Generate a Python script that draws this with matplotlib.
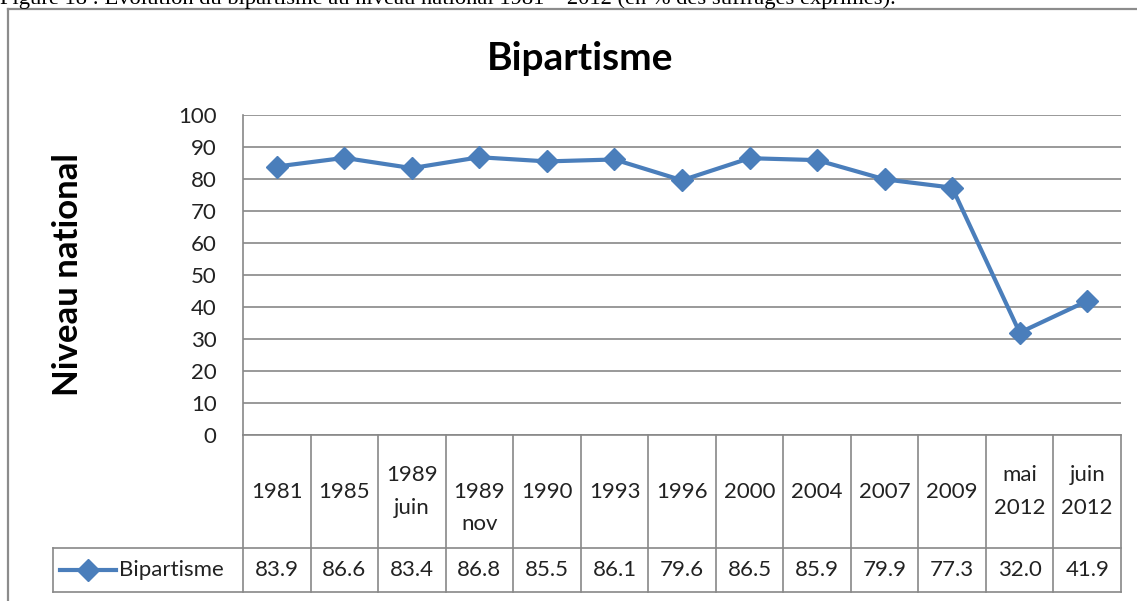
import matplotlib
matplotlib.use("Agg")
import matplotlib.pyplot as plt
from matplotlib.lines import Line2D
import matplotlib.transforms as mtransforms

# ---------------- data ----------------
categories = ["1981", "1985", "1989\njuin", "\n1989\nnov", "1990", "1993", "1996",
              "2000", "2004", "2007", "2009", "mai\n2012", "juin\n2012"]
bipartisme = [83.9, 86.6, 83.4, 86.8, 85.5, 86.1, 79.6, 86.5, 85.9, 79.9, 77.3, 32.0, 41.9]
series_name = "Bipartisme"
title = "Bipartisme"
ylabel = "Niveau national"
caption = ("Figure 18 : Évolution du bipartisme au niveau national 1981 – 2012 "
           "(en % des suffrages exprimés).")
yticks = list(range(0, 101, 10))

# ---------------- layout ----------------
W, H = 1137, 601
def fx(p):
    return p / W
def fy(p):
    return 1 - p / H

BLUE = "#4A7EBB"
GRID = "#888888"
FONT = "Lato"
TXT = 16
MS = 11

fig = plt.figure(figsize=(W / 100, H / 100), dpi=100)
fig.patch.set_facecolor("white")

# caption (cut off at top, as in the source)
fig.text(fx(0), fy(4), caption, family="Liberation Serif", fontsize=16.2,
         va="baseline", ha="left", color="black")

# outer chart frame
fig.add_artist(Line2D([fx(8), fx(8)], [fy(9), fy(620)], color="#8c8c8c", lw=1.6,
                      transform=fig.transFigure, clip_on=False))
fig.add_artist(Line2D([fx(8), fx(1150)], [fy(9), fy(9)], color="#8c8c8c", lw=1.6,
                      transform=fig.transFigure, clip_on=False))

L, R, T, B = 243, 1121, 115, 435
ax = fig.add_axes([fx(L), fy(B), fx(R - L), fy(T) - fy(B)])
x = list(range(len(categories)))
ax.plot(x, bipartisme, color=BLUE, lw=3, marker="D", markersize=MS,
        markerfacecolor=BLUE, markeredgecolor=BLUE, solid_joinstyle="round", zorder=3)
ax.set_xlim(-0.5, len(categories) - 0.5)
ax.set_ylim(0, 100)
ax.set_yticks(yticks)
ax.set_yticklabels([str(v) for v in yticks], family=FONT, fontsize=TXT, color="#222222")
ax.set_xticks([])
ax.tick_params(axis="y", length=0, pad=19)
ax.grid(axis="y", color=GRID, lw=1.2)
ax.set_axisbelow(True)
for s in ["top", "right"]:
    ax.spines[s].set_visible(False)
for s in ["left", "bottom"]:
    ax.spines[s].set_color(GRID)
    ax.spines[s].set_linewidth(1.2)

fig.text(fx(580), fy(58), title, family=FONT, fontsize=28, fontweight="bold",
         ha="center", va="center", color="black")
fig.text(fx(68), fy(275), ylabel, family=FONT, fontsize=25, fontweight="bold",
         rotation=90, ha="center", va="center", color="black")

# ---------------- data table ----------------
bt = mtransforms.blended_transform_factory(ax.transData, fig.transFigure)
HEAD_T, HEAD_B, ROW_B = 435, 548, 592
LEG_L = 53
n = len(categories)
line_kw = dict(color=GRID, lw=1.2, clip_on=False)
for i in range(n + 1):
    ax.add_line(Line2D([i - 0.5, i - 0.5], [fy(HEAD_T), fy(ROW_B)], transform=bt, **line_kw))
fig.add_artist(Line2D([fx(LEG_L), fx(R)], [fy(HEAD_B), fy(HEAD_B)], transform=fig.transFigure, **line_kw))
fig.add_artist(Line2D([fx(LEG_L), fx(R)], [fy(ROW_B), fy(ROW_B)], transform=fig.transFigure, **line_kw))
fig.add_artist(Line2D([fx(LEG_L), fx(LEG_L)], [fy(HEAD_B), fy(ROW_B)], transform=fig.transFigure, **line_kw))

for i, (lab, v) in enumerate(zip(categories, bipartisme)):
    ax.text(i, fy((HEAD_T + HEAD_B) / 2), lab, transform=bt, ha="center", va="center",
            multialignment="center", family=FONT, fontsize=TXT, linespacing=1.8,
            color="#222222", clip_on=False)
    ax.text(i, fy((HEAD_B + ROW_B) / 2), f"{v:.1f}", transform=bt, ha="center", va="center",
            family=FONT, fontsize=TXT, color="#222222", clip_on=False)

# legend key in table
ymid = fy((HEAD_B + ROW_B) / 2)
fig.add_artist(Line2D([fx(60), fx(116)], [ymid, ymid], color=BLUE, lw=3,
                      transform=fig.transFigure, clip_on=False))
fig.add_artist(Line2D([fx(88)], [ymid], color=BLUE, marker="D", markersize=MS,
                      transform=fig.transFigure, clip_on=False))
fig.text(fx(119), ymid, series_name, family=FONT, fontsize=TXT, ha="left", va="center",
         color="#222222")

fig.savefig("out.png", dpi=100)
